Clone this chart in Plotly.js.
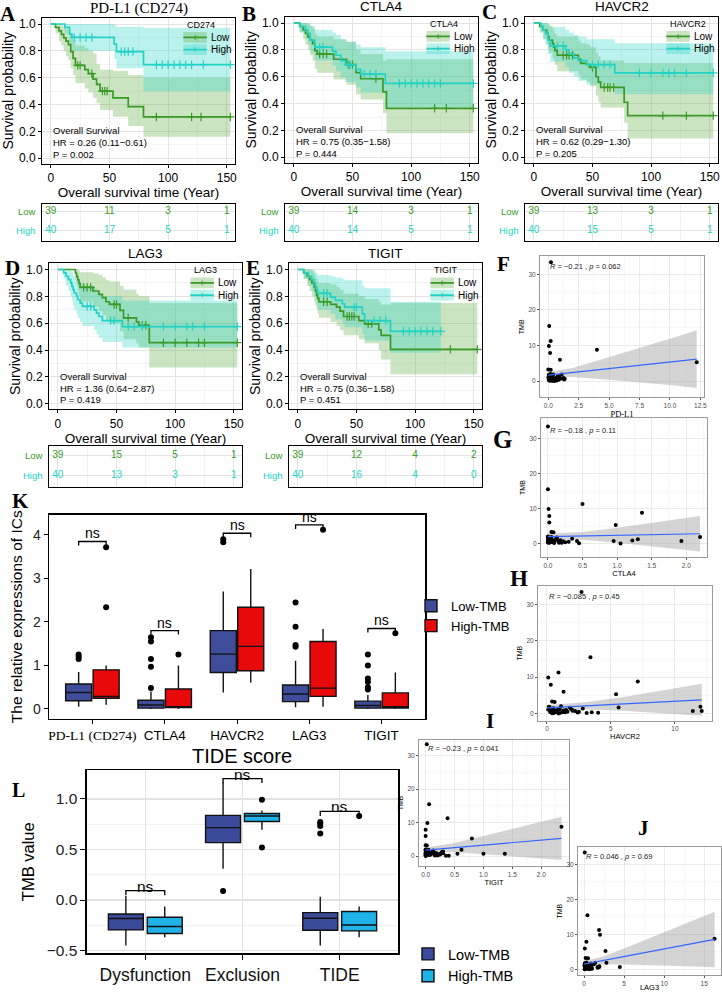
<!DOCTYPE html>
<html><head><meta charset="utf-8">
<script src="https://cdn.plot.ly/plotly-3.0.1.min.js"></script>
<style>html,body{margin:0;padding:0;background:#fff;}#chart{width:722px;height:992px;}</style>
</head><body><div id="chart"></div>
<script>
// ================= DATA =================
// Kaplan-Meier panels A-E
const kmGenes = ['PD-L1 (CD274)', 'CTLA4', 'HAVCR2', 'LAG3', 'TIGIT'];
const kmLegendTitles = ['CD274', 'CTLA4', 'HAVCR2', 'LAG3', 'TIGIT'];
const kmHR = ['HR = 0.26 (0.11\u22120.61)', 'HR = 0.75 (0.35\u22121.58)', 'HR = 0.62 (0.29\u22121.30)', 'HR = 1.36 (0.64\u22122.87)', 'HR = 0.75 (0.36\u22121.58)'];
const kmP = ['P = 0.002', 'P = 0.444', 'P = 0.205', 'P = 0.419', 'P = 0.451'];
const groupNames = ['Low', 'High'];

const pdl1LowTime  = [0, 4, 7, 9, 11, 13, 15, 17, 19, 21, 29, 32, 36, 39, 42, 53, 66, 79];
const pdl1LowSurv  = [1, .974, .949, .923, .897, .872, .846, .795, .744, .692, .66, .63, .59, .55, .50, .45, .385, .308];
const pdl1LowLower = [1, .93, .87, .84, .80, .76, .73, .67, .62, .56, .52, .49, .45, .41, .36, .31, .24, .16];
const pdl1LowUpper = [1, 1, 1, .99, .98, .96, .94, .91, .88, .84, .82, .80, .78, .70, .66, .65, .62, .60];
const pdl1LowCensor = [23, 25, 35, 44, 46, 48, 90, 120, 128, 153];
const pdl1HighTime  = [0, 12, 16, 18, 54, 56, 79];
const pdl1HighSurv  = [1, .975, .925, .90, .85, .795, .697];
const pdl1HighLower = [1, .93, .84, .80, .74, .67, .50];
const pdl1HighUpper = [1, 1, 1, 1, .99, .98, .97];
const pdl1HighCensor = [20, 25, 30, 35, 60, 63, 66, 70, 90, 95, 100, 105, 110, 115, 120, 130, 153];

const ctla4LowTime  = [0, 5, 8, 10, 12, 14, 16, 18, 20, 34, 45, 53, 57, 76, 79];
const ctla4LowSurv  = [1, .974, .949, .923, .897, .872, .846, .795, .769, .73, .69, .63, .585, .487, .365];
const ctla4LowLower = [1, .93, .88, .84, .80, .76, .72, .66, .63, .58, .54, .47, .43, .33, .18];
const ctla4LowUpper = [1, 1, 1, 1, .99, .98, .96, .92, .90, .88, .86, .80, .77, .72, .73];
const ctla4LowCensor = [22, 25, 28, 47, 50, 70, 120, 130, 153];
const ctla4HighTime  = [0, 5, 10, 12, 14, 18, 33, 36, 40, 44, 53, 57, 78];
const ctla4HighSurv  = [1, .974, .949, .923, .872, .82, .79, .76, .72, .69, .655, .62, .55];
const ctla4HighLower = [1, .93, .88, .84, .78, .72, .68, .64, .60, .56, .52, .48, .37];
const ctla4HighUpper = [1, 1, 1, 1, .98, .95, .93, .91, .88, .86, .84, .82, .79];
const ctla4HighCensor = [22, 25, 46, 48, 60, 65, 70, 90, 95, 100, 105, 110, 115, 120, 125, 153];

const havcr2LowTime  = [0, 5, 8, 11, 12, 13, 16, 17, 18, 20, 38, 40, 45, 48, 53, 55, 57, 77, 80];
const havcr2LowSurv  = [1, .974, .949, .923, .897, .872, .846, .821, .795, .76, .73, .70, .69, .67, .60, .56, .52, .41, .31];
const havcr2LowLower = [1, .93, .88, .84, .81, .78, .74, .72, .69, .64, .61, .58, .56, .53, .46, .41, .37, .26, .14];
const havcr2LowUpper = [1, 1, 1, 1, .99, .98, .96, .94, .92, .90, .87, .85, .84, .82, .78, .75, .72, .70, .70];
const havcr2LowCensor = [25, 28, 30, 33, 50, 60, 63, 65, 68, 110, 130, 153];
const havcr2HighTime  = [0, 6, 8, 10, 12, 14, 27, 30, 34, 38, 45, 69];
const havcr2HighSurv  = [1, .974, .949, .923, .872, .83, .80, .77, .74, .72, .69, .628];
const havcr2HighLower = [1, .93, .88, .84, .77, .71, .67, .63, .60, .57, .54, .47];
const havcr2HighUpper = [1, 1, 1, 1, .99, .97, .95, .93, .91, .90, .88, .85];
const havcr2HighCensor = [20, 25, 50, 55, 60, 65, 90, 100, 110, 115, 120, 130, 153];

const lag3LowTime  = [0, 15, 16, 17, 18, 19, 30, 35, 38, 41, 44, 53, 56, 67, 69, 78];
const lag3LowSurv  = [1, .974, .949, .923, .897, .867, .84, .815, .79, .76, .74, .695, .64, .61, .585, .455];
const lag3LowLower = [1, .93, .88, .84, .80, .76, .72, .69, .66, .62, .60, .54, .48, .45, .42, .27];
const lag3LowUpper = [1, 1, 1, 1, .99, .98, .97, .96, .94, .92, .91, .88, .85, .82, .80, .75];
const lag3LowCensor = [22, 25, 28, 48, 50, 60, 72, 75, 90, 100, 110, 120, 125, 153];
const lag3HighTime  = [0, 5, 7, 9, 11, 12, 13, 14, 16, 17, 19, 21, 31, 33, 35, 38, 55];
const lag3HighSurv  = [1, .975, .95, .925, .90, .875, .85, .825, .80, .775, .75, .725, .70, .675, .65, .62, .575];
const lag3HighLower = [1, .93, .88, .84, .80, .77, .73, .70, .67, .64, .61, .58, .55, .52, .49, .46, .42];
const lag3HighUpper = [1, 1, 1, 1, .99, .98, .96, .95, .93, .92, .90, .88, .86, .84, .82, .80, .77];
const lag3HighCensor = [25, 28, 45, 48, 60, 65, 72, 90, 100, 110, 115, 125, 153];

const tigitLowTime  = [0, 5, 8, 10, 12, 14, 15, 16, 17, 18, 28, 33, 36, 39, 52, 57, 69, 71, 79];
const tigitLowSurv  = [1, .975, .95, .925, .90, .87, .84, .81, .785, .76, .74, .72, .69, .65, .62, .595, .55, .51, .405];
const tigitLowLower = [1, .93, .88, .84, .80, .76, .73, .70, .67, .64, .61, .58, .55, .51, .48, .45, .40, .33, .22];
const tigitLowUpper = [1, 1, 1, 1, .99, .97, .95, .93, .91, .90, .89, .87, .85, .82, .80, .78, .76, .74, .75];
const tigitLowCensor = [22, 25, 42, 44, 46, 48, 60, 63, 130, 153];
const tigitHighTime  = [0, 5, 9, 12, 14, 15, 16, 17, 28, 32, 38, 40, 55, 57, 79];
const tigitHighSurv  = [1, .975, .95, .925, .90, .875, .85, .823, .795, .77, .745, .72, .67, .62, .54];
const tigitHighLower = [1, .93, .88, .84, .80, .77, .74, .70, .67, .63, .60, .57, .52, .47, .38];
const tigitHighUpper = [1, 1, 1, 1, .99, .98, .97, .96, .95, .94, .93, .92, .88, .86, .76];
const tigitHighCensor = [22, 25, 48, 50, 65, 70, 75, 90, 95, 100, 105, 110, 115, 122];

// Numbers at risk
const riskTimes = [0, 50, 100, 150];
const pdl1RiskLow = [39, 11, 3, 1],  pdl1RiskHigh = [40, 17, 5, 1];
const ctla4RiskLow = [39, 14, 3, 1], ctla4RiskHigh = [40, 14, 5, 1];
const havcr2RiskLow = [39, 13, 3, 1], havcr2RiskHigh = [40, 15, 5, 1];
const lag3RiskLow = [39, 15, 5, 1],  lag3RiskHigh = [40, 13, 3, 1];
const tigitRiskLow = [39, 12, 4, 2], tigitRiskHigh = [40, 16, 4, 0];

// Correlation scatter panels F-J (TMB vs expression)
const tmbValues = [33.4, 15.5, 11.3, 9.9, 7.9, 6.0, 3.3, 3.2, 5.3, 8.8, 1.9, 0.7, 0.7, 0.9,
  1.8, 1.5, 1.2, 1.0, 0.9, 0.8, 0.6, 0.5, 0.4, 0.3, 0.2, 0.1, 1.6, 1.3, 1.1, 0.7, 0.5, 0.35, 0.25, 0.15, 2.0, 1.4, 0.95, 0.55, 0.45, 0.05, 1.7, 0.85, 0.65, 0.3, 1.9, 1.2, 0.75, 0.4, 0.2, 0.6];
const pdl1Expr = [0.22, 0.08, 0.2, 0.05, 0.15, 0.96, 0.0, 0.2, 12.2, 4.0, 1.1, 0.5, 0.3, 1.25,
  0.05, 0.1, 0.3, 0.15, 0.6, 0.2, 0.4, 1.3, 0.05, 0.25, 0.7, 0.12, 0.35, 0.8, 0.02, 1.35, 0.45, 0.08, 0.55, 0.3, 0.18, 0.9, 0.04, 0.65, 0.22, 0.5, 0.1, 0.28, 1.0, 0.06, 0.4, 0.75, 0.14, 0.85, 0.33, 0.03];
const ctla4Expr = [0.0, 0.0, 0.5, 0.01, 0.02, 0.02, 0.05, 0.08, 0.98, 1.36, 2.2, 1.93, 0.95, 1.22,
  0.0, 0.02, 0.05, 0.1, 0.0, 0.15, 0.03, 0.3, 0.08, 0.01, 0.2, 0.45, 0.04, 0.12, 0.0, 0.42, 0.06, 0.25, 0.02, 0.09, 0.0, 0.35, 0.18, 0.01, 0.07, 1.05, 0.13, 0.04, 0.22, 0.0, 0.05, 1.3, 0.1, 0.03, 0.16, 0.0];
const havcr2Expr = [2.7, 3.4, 0.9, 0.1, 0.3, 1.3, 0.4, 0.6, 5.4, 7.1, 12.0, 12.1, 11.4, 2.0,
  0.2, 0.5, 1.0, 1.5, 0.8, 2.0, 0.3, 2.5, 1.2, 0.6, 3.1, 0.4, 1.8, 0.9, 0.1, 2.2, 0.7, 1.4, 4.0, 0.5, 1.1, 2.8, 0.35, 1.6, 0.25, 0.9, 5.6, 1.3, 0.45, 2.4, 0.15, 1.9, 0.65, 3.5, 1.0, 0.55];
const tigitExpr = [0.02, 0.06, 0.38, 0.03, 0.0, 0.0, 0.0, 0.02, 0.8, 2.35, 0.62, 1.37, 1.0, 0.3,
  0.0, 0.02, 0.05, 0.1, 0.0, 0.15, 0.03, 0.25, 0.08, 0.01, 0.2, 0.35, 0.04, 0.12, 0.0, 0.55, 0.06, 0.22, 0.02, 0.4, 0.0, 0.3, 0.18, 0.01, 0.07, 0.0, 0.13, 0.04, 0.24, 0.0, 0.05, 0.28, 0.1, 0.03, 0.16, 0.0];
const lag3Expr = [0.09, 0.43, 1.88, 2.0, 0.3, 0.1, 0.2, 0.5, 2.68, 16.3, 2.8, 4.47, 1.7, 1.9,
  0.1, 0.3, 0.5, 0.2, 0.8, 0.4, 0.6, 1.7, 0.15, 0.35, 1.0, 0.7, 0.25, 0.9, 0.05, 1.9, 0.45, 0.55, 0.12, 0.65, 0.3, 1.2, 0.2, 0.75, 0.4, 0.08, 0.85, 0.5, 0.6, 0.18, 1.4, 0.35, 0.28, 0.95, 0.42, 0.22];
const corStats = ['<i>R</i> = \u22120.21 , <i>p</i> = 0.062', '<i>R</i> = \u22120.18 , <i>p</i> = 0.11', '<i>R</i> = \u22120.085 , <i>p</i> = 0.45', '<i>R</i> = \u22120.23 , <i>p</i> = 0.041', '<i>R</i> = 0.046 , <i>p</i> = 0.69'];
// fitted regression lines with 95% band
const pdl1FitX = [0, 2, 4, 6, 8, 10, 12.2], pdl1FitY = [1.7, 2.44, 3.18, 3.92, 4.66, 5.4, 6.2];
const pdl1FitLo = [0.8, 1.2, 0.7, 0.1, -0.4, -1.1, -1.9], pdl1FitHi = [2.6, 3.7, 5.7, 7.7, 9.8, 11.9, 14.3];
const ctla4FitX = [0, 0.5, 1, 1.5, 2.2], ctla4FitY = [2.0, 2.18, 2.36, 2.54, 2.8];
const ctla4FitLo = [1.15, 1.1, 0.2, -0.8, -2.25], ctla4FitHi = [2.85, 3.3, 4.5, 5.9, 7.85];
const havcr2FitX = [0, 3, 6, 9, 12.1], havcr2FitY = [1.6, 2.15, 2.7, 3.25, 3.8];
const havcr2FitLo = [0.8, 1.2, 0.8, 0.1, -0.6], havcr2FitHi = [2.4, 3.1, 4.6, 6.4, 8.2];
const tigitFitX = [0, 0.5, 1, 1.5, 2, 2.35], tigitFitY = [1.8, 2.55, 3.3, 4.05, 4.8, 5.33];
const tigitFitLo = [0.97, 1.15, 0.6, 0.0, -0.7, -1.1], tigitFitHi = [2.63, 3.95, 6.0, 8.1, 10.3, 11.8];
const lag3FitX = [0, 2.5, 5, 7.5, 10, 12.5, 16.3], lag3FitY = [1.5, 2.59, 3.68, 4.76, 5.85, 6.94, 8.59];
const lag3FitLo = [0.65, 1.44, 1.4, 1.3, 1.1, 0.9, 0.65], lag3FitHi = [2.35, 3.74, 5.95, 8.3, 10.6, 12.9, 16.5];

// Panel K: immune checkpoint boxplots (Low-TMB vs High-TMB)
const kCategories = ['PD-L1 (CD274)', 'CTLA4', 'HAVCR2', 'LAG3', 'TIGIT'];
const kLowQ1 = [0.19, 0.02, 0.84, 0.17, 0.02], kLowMedian = [0.38, 0.09, 1.26, 0.345, 0.08], kLowQ3 = [0.575, 0.2, 1.8, 0.55, 0.18];
const kLowMin = [0.05, 0.0, 0.38, 0.04, 0.0], kLowMax = [0.85, 0.4, 2.7, 1.11, 0.32];
const kHighQ1 = [0.245, 0.03, 0.88, 0.29, 0.02], kHighMedian = [0.29, 0.05, 1.44, 0.48, 0.05], kHighQ3 = [0.9, 0.46, 2.34, 1.55, 0.37];
const kHighMin = [0.1, 0.0, 0.61, 0.05, 0.0], kHighMax = [1.0, 1.0, 3.22, 1.84, 0.84];
const kLowOutliers = [[1.15, 1.2, 1.25], [0.48, 0.97, 1.15, 1.55, 1.65], [3.83, 3.9], [1.43, 1.47, 1.89, 2.45], [0.45, 0.5, 0.62, 0.7, 1.0, 1.25]];
const kHighOutliers = [[2.34, 3.72], [1.25], [], [4.12], [1.74]];
const kBracketY = [3.85, 1.8, 4.04, 4.23, 1.85];
const kSigLabels = ['ns', 'ns', 'ns', 'ns', 'ns'];

// Panel L: TIDE score boxplots
const lCategories = ['Dysfunction', 'Exclusion', 'TIDE'];
const lLowQ1 = [-0.295, 0.567, -0.298], lLowMedian = [-0.183, 0.715, -0.18], lLowQ3 = [-0.138, 0.836, -0.124];
const lLowMin = [-0.448, 0.31, -0.448], lLowMax = [0.04, 1.164, 0.033];
const lHighQ1 = [-0.33, 0.776, -0.305], lHighMedian = [-0.262, 0.83, -0.246], lHighQ3 = [-0.17, 0.855, -0.114];
const lHighMin = [-0.367, 0.695, -0.367], lHighMax = [-0.065, 0.885, -0.065];
const lLowOutliers = [[], [0.089], [0.656, 0.73, 0.755, 0.771]];
const lHighOutliers = [[], [0.518, 0.99], [0.83]];
const lBracketY = [0.092, 1.2, 0.875];
const lSigLabels = ['ns', 'ns', 'ns'];
const tmbGroupNames = ['Low-TMB', 'High-TMB'];

// ================= DRAWING =================
const W = 722, H = 992;
const SANS = '"Liberation Sans", Arial, sans-serif';
const SERIF = '"Liberation Serif", "Times New Roman", serif';
const GREEN = '#3A9A27', CYAN = '#22D3C5';
const GREEN_FILL = 'rgba(84,165,52,0.30)', CYAN_FILL = 'rgba(34,211,197,0.30)';
const K_LOW = '#3E4C9A', K_HIGH = '#E8090B';
const L_LOW = '#3B4A9B', L_HIGH = '#1FB3E9';

const traces = [];
const layout = {
  width: W, height: H, margin: {l: 0, r: 0, t: 0, b: 0},
  paper_bgcolor: '#fff', plot_bgcolor: '#fff', hovermode: false,
  annotations: [], shapes: [], showlegend: true,
  legend: {x: 411 / W, y: 1 - 592 / H, xanchor: 'left', yanchor: 'top', traceorder: 'normal', font: {family: SANS, size: 13, color: '#000'}, bgcolor: 'rgba(0,0,0,0)', tracegroupgap: 0, itemwidth: 30},
  legend2: {x: 408 / W, y: 1 - 940 / H, xanchor: 'left', yanchor: 'top', traceorder: 'normal', font: {family: SANS, size: 14.5, color: '#000'}, bgcolor: 'rgba(0,0,0,0)', tracegroupgap: 0, itemwidth: 30}
};
let nAx = 0;
function mkAxes(box, xo, yo) {
  nAx++;
  const s = nAx === 1 ? '' : String(nAx);
  layout['xaxis' + s] = Object.assign({domain: [box.l / W, box.r / W], anchor: 'y' + s, fixedrange: true}, xo);
  layout['yaxis' + s] = Object.assign({domain: [1 - box.b / H, 1 - box.t / H], anchor: 'x' + s, fixedrange: true}, yo);
  return {x: 'x' + s, y: 'y' + s};
}
function ann(o) { layout.annotations.push(Object.assign({showarrow: false}, o)); }
function panelLetter(letter, px, py, size) {
  ann({text: '<b>' + letter + '</b>', xref: 'paper', yref: 'paper', x: px / W, y: 1 - py / H, xanchor: 'center', yanchor: 'middle', font: {family: SERIF, size: size || 21, color: '#000'}});
}
function stepValue(t, s, x) { let v = s[0]; for (let i = 0; i < t.length; i++) { if (t[i] <= x) v = s[i]; } return v; }

// ---------- KM ----------
const kmData = [
  [{t: pdl1LowTime, s: pdl1LowSurv, lo: pdl1LowLower, hi: pdl1LowUpper, c: pdl1LowCensor}, {t: pdl1HighTime, s: pdl1HighSurv, lo: pdl1HighLower, hi: pdl1HighUpper, c: pdl1HighCensor}],
  [{t: ctla4LowTime, s: ctla4LowSurv, lo: ctla4LowLower, hi: ctla4LowUpper, c: ctla4LowCensor}, {t: ctla4HighTime, s: ctla4HighSurv, lo: ctla4HighLower, hi: ctla4HighUpper, c: ctla4HighCensor}],
  [{t: havcr2LowTime, s: havcr2LowSurv, lo: havcr2LowLower, hi: havcr2LowUpper, c: havcr2LowCensor}, {t: havcr2HighTime, s: havcr2HighSurv, lo: havcr2HighLower, hi: havcr2HighUpper, c: havcr2HighCensor}],
  [{t: lag3LowTime, s: lag3LowSurv, lo: lag3LowLower, hi: lag3LowUpper, c: lag3LowCensor}, {t: lag3HighTime, s: lag3HighSurv, lo: lag3HighLower, hi: lag3HighUpper, c: lag3HighCensor}],
  [{t: tigitLowTime, s: tigitLowSurv, lo: tigitLowLower, hi: tigitLowUpper, c: tigitLowCensor}, {t: tigitHighTime, s: tigitHighSurv, lo: tigitHighLower, hi: tigitHighUpper, c: tigitHighCensor}]
];
const riskData = [[pdl1RiskLow, pdl1RiskHigh], [ctla4RiskLow, ctla4RiskHigh], [havcr2RiskLow, havcr2RiskHigh], [lag3RiskLow, lag3RiskHigh], [tigitRiskLow, tigitRiskHigh]];
const kmBoxes = [{l: 42, r: 235, t: 18, b: 164}, {l: 285, r: 478, t: 17, b: 163}, {l: 525, r: 718, t: 17, b: 163}, {l: 49, r: 242, t: 264, b: 410}, {l: 289, r: 482, t: 264, b: 410}];
const tableBoxes = [{l: 42, r: 235, t: 204, b: 241}, {l: 285, r: 478, t: 204, b: 241}, {l: 525, r: 718, t: 204, b: 241}, {l: 49, r: 242, t: 447, b: 488}, {l: 289, r: 482, t: 447, b: 488}];
const kmTitleY = [9, 7, 7, 254, 254];
const kmLetters = [['A', 8, 14], ['B', 249, 14], ['C', 489, 12], ['D', 12, 269], ['E', 253, 269]];
const colors = [GREEN, CYAN], fills = [GREEN_FILL, CYAN_FILL];
const KM_XR = [-7.5, 157];

kmGenes.forEach((gene, k) => {
  const box = kmBoxes[k];
  const ax = mkAxes(box, {
    range: KM_XR, tickvals: [0, 50, 100, 150], ticks: 'outside', ticklen: 3, tickcolor: '#000',
    showline: true, mirror: true, linecolor: '#000', linewidth: 1,
    showgrid: true, gridcolor: '#E4E4E4', gridwidth: 1,
    minor: {tickvals: [25, 75, 125], showgrid: true, gridcolor: '#F1F1F1', gridwidth: 0.7},
    zeroline: false, tickfont: {family: SANS, size: 12, color: '#000'},
    title: {text: 'Overall survival time (Year)', font: {family: SANS, size: 13.5, color: '#000'}, standoff: 2}
  }, {
    range: [-0.04, 1.045], tickvals: [0, 0.2, 0.4, 0.6, 0.8, 1.0], tickformat: '.1f', ticks: 'outside', ticklen: 3, tickcolor: '#000',
    showline: true, mirror: true, linecolor: '#000', linewidth: 1,
    showgrid: true, gridcolor: '#E4E4E4', gridwidth: 1,
    minor: {tickvals: [0.1, 0.3, 0.5, 0.7, 0.9], showgrid: true, gridcolor: '#F1F1F1', gridwidth: 0.7},
    zeroline: false, tickfont: {family: SANS, size: 12, color: '#000'},
    title: {text: 'Survival probability', font: {family: SANS, size: 14, color: '#000'}, standoff: 2}
  });
  const groups = kmData[k];
  groups.forEach((g, gi) => {
    const end = Math.max(g.t[g.t.length - 1], Math.max.apply(null, g.c));
    const xs = g.t.concat([end]);
    traces.push({type: 'scatter', mode: 'lines', x: xs, y: g.hi.concat([g.hi[g.hi.length - 1]]), xaxis: ax.x, yaxis: ax.y, line: {width: 0, shape: 'hv', color: fills[gi]}, showlegend: false, hoverinfo: 'skip'});
    traces.push({type: 'scatter', mode: 'lines', x: xs, y: g.lo.concat([g.lo[g.lo.length - 1]]), xaxis: ax.x, yaxis: ax.y, line: {width: 0, shape: 'hv', color: fills[gi]}, fill: 'tonexty', fillcolor: fills[gi], showlegend: false, hoverinfo: 'skip'});
  });
  groups.forEach((g, gi) => {
    const end = Math.max(g.t[g.t.length - 1], Math.max.apply(null, g.c));
    traces.push({type: 'scatter', mode: 'lines', name: groupNames[gi], x: g.t.concat([end]), y: g.s.concat([g.s[g.s.length - 1]]), xaxis: ax.x, yaxis: ax.y, line: {width: 1.7, shape: 'hv', color: colors[gi]}, showlegend: false});
    traces.push({type: 'scatter', mode: 'markers', x: g.c, y: g.c.map(c => stepValue(g.t, g.s, c)), xaxis: ax.x, yaxis: ax.y, marker: {symbol: 'cross-thin', size: 6, color: colors[gi], line: {color: colors[gi], width: 1.2}}, showlegend: false});
  });
  ann({text: 'Overall Survival', xref: ax.x, yref: ax.y, x: 0, y: 0.205, xanchor: 'left', yanchor: 'middle', font: {family: SANS, size: 9.5, color: '#000'}});
  ann({text: kmHR[k], xref: ax.x, yref: ax.y, x: 0, y: 0.115, xanchor: 'left', yanchor: 'middle', font: {family: SANS, size: 9.5, color: '#000'}});
  ann({text: kmP[k], xref: ax.x, yref: ax.y, x: 0, y: 0.03, xanchor: 'left', yanchor: 'middle', font: {family: SANS, size: 9.5, color: '#000'}});
  ann({text: kmLegendTitles[k], xref: ax.x, yref: ax.y, x: 114, y: 0.995, xanchor: 'left', yanchor: 'middle', font: {family: SANS, size: 9, color: '#000'}});
  [0.9, 0.81].forEach((ly, gi) => {
    layout.shapes.push({type: 'rect', xref: ax.x, yref: ax.y, x0: 113, x1: 133, y0: ly - 0.04, y1: ly + 0.04, fillcolor: fills[gi], line: {width: 0}});
    layout.shapes.push({type: 'line', xref: ax.x, yref: ax.y, x0: 113, x1: 133, y0: ly, y1: ly, line: {color: colors[gi], width: 1.7}});
    layout.shapes.push({type: 'line', xref: ax.x, yref: ax.y, x0: 123, x1: 123, y0: ly - 0.018, y1: ly + 0.018, line: {color: colors[gi], width: 1}});
    ann({text: groupNames[gi], xref: ax.x, yref: ax.y, x: 135, y: ly, xanchor: 'left', yanchor: 'middle', font: {family: SANS, size: 10, color: '#000'}});
  });
  ann({text: gene, xref: 'paper', yref: 'paper', x: ((box.l + box.r) / 2) / W, y: 1 - kmTitleY[k] / H, xanchor: 'center', yanchor: 'middle',
       font: {family: k === 0 ? SERIF : SANS, size: k === 0 ? 15 : 13.5, color: '#000'}});
  panelLetter(kmLetters[k][0], kmLetters[k][1], kmLetters[k][2], 21);

  const tb = tableBoxes[k];
  const tax = mkAxes(tb, {
    range: KM_XR, tickvals: [0, 50, 100, 150], showticklabels: false, ticks: '', showline: true, mirror: true, linecolor: '#000', linewidth: 1,
    showgrid: true, gridcolor: '#E4E4E4', minor: {tickvals: [25, 75, 125], showgrid: true, gridcolor: '#F1F1F1'}, zeroline: false
  }, {
    range: [-0.55, 1.45], tickvals: [0, 1], showticklabels: false, ticks: '', showline: true, mirror: true, linecolor: '#000', linewidth: 1,
    showgrid: true, gridcolor: '#E4E4E4', zeroline: false
  });
  riskData[k].forEach((vals, gi) => {
    const row = gi === 0 ? 1 : 0;
    traces.push({type: 'scatter', mode: 'text', x: riskTimes, y: riskTimes.map(() => row), text: vals.map(String), textposition: 'middle center',
      textfont: {family: SANS, size: 10, color: colors[gi]}, xaxis: tax.x, yaxis: tax.y, showlegend: false, cliponaxis: false});
    ann({text: groupNames[gi], xref: 'paper', yref: tax.y, x: (tb.l - 4) / W, y: row, xanchor: 'right', yanchor: 'middle', font: {family: SANS, size: 9.5, color: colors[gi]}});
  });
});

// ---------- Scatter panels F-J ----------
const scatterSpecs = [
  {letter: 'F', lp: [503, 265, 21], box: {l: 540, r: 704, t: 257, b: 398}, xv: pdl1Expr, xr: [-0.68, 12.8], xt: [0, 2.5, 5, 7.5, 10, 12.5], xfmt: '.1f', xminor: 1.25, title: 'PD-L1', serif: true,
   fx: pdl1FitX, fy: pdl1FitY, flo: pdl1FitLo, fhi: pdl1FitHi, yr: [-4.5, 35.0], stat: corStats[0]},
  {letter: 'G', lp: [502, 440, 25], box: {l: 541, r: 707, t: 419, b: 558}, xv: ctla4Expr, xr: [-0.1, 2.3], xt: [0, 0.5, 1, 1.5, 2], xfmt: '.1f', xminor: 0.25, title: 'CTLA4', serif: false,
   fx: ctla4FitX, fy: ctla4FitY, flo: ctla4FitLo, fhi: ctla4FitHi, yr: [-3.8, 35.8], stat: corStats[1]},
  {letter: 'H', lp: [519, 580, 23], box: {l: 538, r: 712, t: 587, b: 722}, xv: havcr2Expr, xr: [-0.7, 12.9], xt: [0, 5, 10], xfmt: 'd', xminor: 2.5, title: 'HAVCR2', serif: false,
   fx: havcr2FitX, fy: havcr2FitY, flo: havcr2FitLo, fhi: havcr2FitHi, yr: [-1.9, 35.1], stat: corStats[2]},
  {letter: 'I', lp: [490, 722, 21], box: {l: 419, r: 569, t: 741, b: 868}, xv: tigitExpr, xr: [-0.115, 2.48], xt: [0, 0.5, 1, 1.5, 2], xfmt: '.1f', xminor: 0.25, title: 'TIGIT', serif: false,
   fx: tigitFitX, fy: tigitFitY, flo: tigitFitLo, fhi: tigitFitHi, yr: [-3.0, 34.8], stat: corStats[3]},
  {letter: 'J', lp: [643, 830, 21], box: {l: 578, r: 721, t: 849, b: 977}, xv: lag3Expr, xr: [-0.75, 17.1], xt: [0, 5, 10, 15], xfmt: 'd', xminor: 2.5, title: 'LAG3', serif: false,
   fx: lag3FitX, fy: lag3FitY, flo: lag3FitLo, fhi: lag3FitHi, yr: [-1.6, 34.9], stat: corStats[4]}
];
scatterSpecs.forEach(sp => {
  const minorX = [];
  for (let v = sp.xt[0] + sp.xminor; v < sp.xr[1]; v += sp.xminor * 2) minorX.push(v);
  const ax = mkAxes(sp.box, {
    range: sp.xr, tickvals: sp.xt, tickformat: sp.xfmt, ticks: 'outside', ticklen: 2, tickcolor: '#555', showline: true, mirror: true, linecolor: '#9A9A9A', linewidth: 1,
    showgrid: true, gridcolor: '#E6E6E6', gridwidth: 0.8, minor: {tickvals: minorX, showgrid: true, gridcolor: '#F2F2F2', gridwidth: 0.5}, zeroline: false,
    tickfont: {family: SANS, size: 6.5, color: '#4D4D4D'},
    title: {text: sp.title, font: {family: sp.serif ? SERIF : SANS, size: sp.serif ? 8.5 : 7.5, color: '#000'}, standoff: 2}
  }, {
    range: sp.yr, tickvals: [0, 10, 20, 30], ticks: 'outside', ticklen: 2, tickcolor: '#555', showline: true, mirror: true, linecolor: '#9A9A9A', linewidth: 1,
    showgrid: true, gridcolor: '#E6E6E6', gridwidth: 0.8, minor: {tickvals: [5, 15, 25], showgrid: true, gridcolor: '#F2F2F2', gridwidth: 0.5}, zeroline: false,
    tickfont: {family: SANS, size: 6.5, color: '#4D4D4D'},
    title: {text: 'TMB', font: {family: SANS, size: 7, color: '#000'}, standoff: 3}
  });
  traces.push({type: 'scatter', mode: 'lines', x: sp.fx, y: sp.fhi, xaxis: ax.x, yaxis: ax.y, line: {width: 0, color: 'rgba(153,153,153,0.4)'}, showlegend: false});
  traces.push({type: 'scatter', mode: 'lines', x: sp.fx, y: sp.flo, xaxis: ax.x, yaxis: ax.y, line: {width: 0, color: 'rgba(153,153,153,0.4)'}, fill: 'tonexty', fillcolor: 'rgba(153,153,153,0.42)', showlegend: false});
  traces.push({type: 'scatter', mode: 'markers', x: sp.xv, y: tmbValues, xaxis: ax.x, yaxis: ax.y, marker: {color: '#000', size: 4}, showlegend: false});
  traces.push({type: 'scatter', mode: 'lines', x: sp.fx, y: sp.fy, xaxis: ax.x, yaxis: ax.y, line: {width: 1.2, color: '#3366FF'}, showlegend: false});
  ann({text: sp.stat, xref: ax.x, yref: ax.y, x: 0, y: 32.2, xanchor: 'left', yanchor: 'middle', font: {family: SANS, size: 7.5, color: '#222'}});
  panelLetter(sp.letter, sp.lp[0], sp.lp[1], sp.lp[2]);
});

// ---------- Box panels K & L ----------
function addBoxPanel(ax, cats, stats, boxColors, outliers, brackets, sigs, legendId, off, tickDrop, sigSize, sigShift) {
  [0, 1].forEach(gi => {
    const pos = cats.map((c, i) => i + (gi === 0 ? -off : off));
    const st = stats[gi];
    traces.push({type: 'box', name: tmbGroupNames[gi], x: pos, q1: st.q1, median: st.med, q3: st.q3, lowerfence: st.min, upperfence: st.max,
      width: 0.36, fillcolor: boxColors[gi], line: {color: '#111', width: 1.4}, whiskerwidth: 0, xaxis: ax.x, yaxis: ax.y, legend: legendId, showlegend: true, boxpoints: false});
  });
  [0, 1].forEach(gi => {
    const ox = [], oy = [];
    outliers[gi].forEach((arr, i) => arr.forEach(v => { ox.push(i + (gi === 0 ? -off : off)); oy.push(v); }));
    traces.push({type: 'scatter', mode: 'markers', x: ox, y: oy, xaxis: ax.x, yaxis: ax.y, marker: {color: '#000', size: 6}, showlegend: false});
  });
  brackets.forEach((by, i) => {
    traces.push({type: 'scatter', mode: 'lines', x: [i - off, i - off, i + off, i + off], y: [by - tickDrop, by, by, by - tickDrop], xaxis: ax.x, yaxis: ax.y,
      line: {color: '#000', width: 1.3}, showlegend: false, cliponaxis: false});
    ann({text: sigs[i], xref: ax.x, yref: ax.y, x: i, y: by, xanchor: 'center', yanchor: 'bottom', yshift: sigShift, font: {family: SANS, size: sigSize, color: '#000'}});
  });
}

// K
const kAx = mkAxes({l: 49, r: 425, t: 516, b: 720}, {
  range: [-0.6, 4.6], tickvals: [0, 1, 2, 3, 4],
  ticktext: ['<span style="font-family:' + "'Liberation Serif'" + '">PD-L1 (CD274)</span>', 'CTLA4', 'HAVCR2', 'LAG3', 'TIGIT'],
  ticks: 'outside', ticklen: 4, tickcolor: '#000', showline: true, mirror: true, linecolor: '#000', linewidth: 1.5, showgrid: false, zeroline: false,
  tickfont: {family: SANS, size: 13.5, color: '#000'}
}, {
  range: [-0.22, 4.46], tickvals: [0, 1, 2, 3, 4], ticks: 'outside', ticklen: 4, tickcolor: '#000', showline: true, mirror: true, linecolor: '#000', linewidth: 1.5,
  showgrid: false, zeroline: false, tickfont: {family: SANS, size: 14, color: '#222'},
  title: {text: 'The relative expressions of ICs', font: {family: SANS, size: 15.5, color: '#000'}, standoff: 6}
});
addBoxPanel(kAx, kCategories,
  [{q1: kLowQ1, med: kLowMedian, q3: kLowQ3, min: kLowMin, max: kLowMax}, {q1: kHighQ1, med: kHighMedian, q3: kHighQ3, min: kHighMin, max: kHighMax}],
  [K_LOW, K_HIGH], [kLowOutliers, kHighOutliers], kBracketY, kSigLabels, 'legend', 0.19, 0.09, 14, -2);
panelLetter('K', 20, 502, 21);

// L
const lAx = mkAxes({l: 87, r: 398, t: 772, b: 955}, {
  range: [-0.6, 2.6], tickvals: [0, 1, 2], ticktext: lCategories, ticks: 'outside', ticklen: 5, tickcolor: '#000',
  showline: true, mirror: true, linecolor: '#000', linewidth: 1.6, showgrid: true, gridcolor: '#E2E2E2', gridwidth: 1.5, zeroline: false,
  tickfont: {family: SANS, size: 17.5, color: '#111'}
}, {
  range: [-0.524, 1.28], tickvals: [-0.5, 0, 0.5, 1.0], tickformat: '.1f', ticks: 'outside', ticklen: 5, tickcolor: '#000',
  showline: true, mirror: true, linecolor: '#000', linewidth: 1.6, showgrid: true, gridcolor: '#E2E2E2', gridwidth: 1.5,
  minor: {tickvals: [-0.25, 0.25, 0.75], showgrid: true, gridcolor: '#EFEFEF', gridwidth: 0.8}, zeroline: false,
  tickfont: {family: SANS, size: 15.5, color: '#222'},
  title: {text: 'TMB value', font: {family: SANS, size: 16.5, color: '#000'}, standoff: 8}
});
addBoxPanel(lAx, lCategories,
  [{q1: lLowQ1, med: lLowMedian, q3: lLowQ3, min: lLowMin, max: lLowMax}, {q1: lHighQ1, med: lHighMedian, q3: lHighQ3, min: lHighMin, max: lHighMax}],
  [L_LOW, L_HIGH], [lLowOutliers, lHighOutliers], lBracketY, lSigLabels, 'legend2', 0.2, 0.045, 15.5, -6);
ann({text: 'TIDE score', xref: 'paper', yref: 'paper', x: 242 / W, y: 1 - 758 / H, xanchor: 'center', yanchor: 'middle', font: {family: SANS, size: 20, color: '#000'}});
panelLetter('L', 18, 792, 20);

Plotly.newPlot('chart', traces, layout, {displayModeBar: false, staticPlot: true});
</script></body></html>
